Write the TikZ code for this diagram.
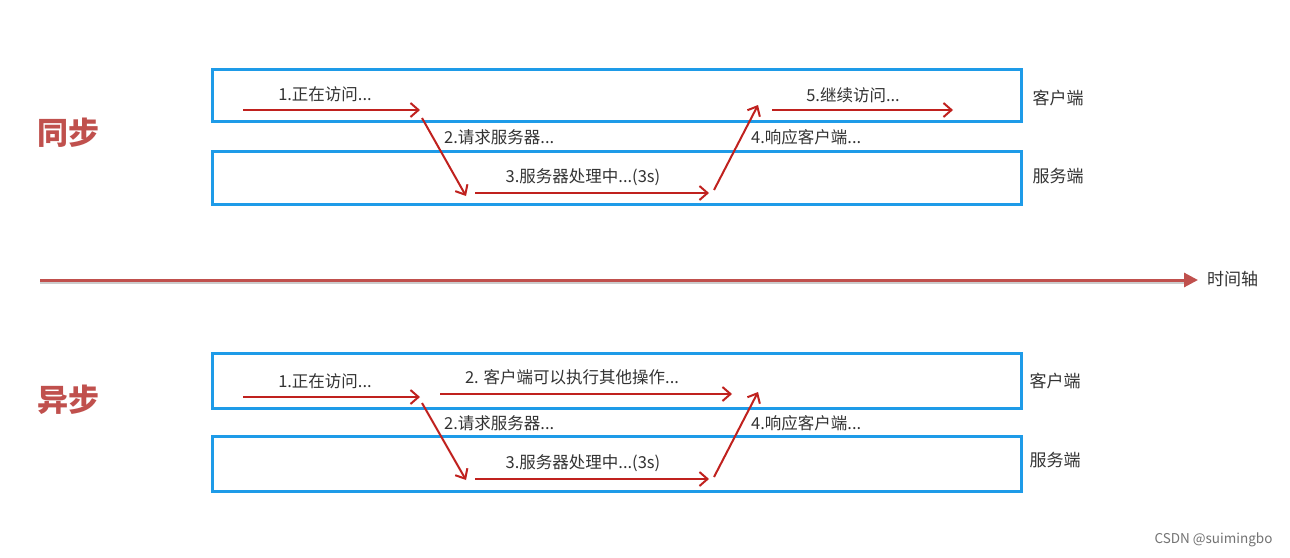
\documentclass[tikz,border=0pt]{standalone}
\usepackage{fontspec}
\setmainfont{Noto Sans CJK SC}
\usetikzlibrary{arrows.meta}
\definecolor{boxblue}{HTML}{1E9BE8}
\definecolor{arrred}{HTML}{C0211E}
\definecolor{axisred}{HTML}{C0504D}
\definecolor{txtgray}{HTML}{333333}
\tikzset{
  lane/.style={draw=boxblue, line width=3pt, minimum width=809pt, anchor=north west, inner sep=0pt},
  flow/.style={draw=arrred, line width=2pt, -{Straight Barb[length=8pt,width=14pt,line width=2pt]}},
  lbl/.style={text=txtgray, font=\fontsize{16.5}{18}\selectfont, inner sep=1pt},
  side/.style={text=txtgray, font=\fontsize{17}{19}\selectfont, inner sep=1pt},
  title/.style={text=axisred, font=\fontsize{31}{34}\selectfont\bfseries, inner sep=0pt},
}
\begin{document}
\begin{tikzpicture}[x=1pt,y=-1pt]
\useasboundingbox[fill=white] (0,0) rectangle (1290,557);

% ---------- synchronous ----------
\node[title] (tsync) at (68,133) {同步};
\node[lane, minimum height=52pt] (c1) at (211,68) {};
\node[lane, minimum height=53pt] (s1) at (211,150) {};
\node[side] (c1l) at (1058,98) {客户端};
\node[side] (s1l) at (1058,176) {服务端};

\coordinate (a1s) at (243,110); \coordinate (a1e) at (420,110);
\coordinate (a2s) at (422,118); \coordinate (a2e) at (466,196);
\coordinate (a3s) at (475,193); \coordinate (a3e) at (709,193);
\coordinate (a4s) at (714,190); \coordinate (a4e) at (758,105);
\coordinate (a5s) at (772,110); \coordinate (a5e) at (953,110);
\draw[flow] (a1s) -- (a1e);
\draw[flow] (a2s) -- (a2e);
\draw[flow] (a3s) -- (a3e);
\draw[flow] (a4s) -- (a4e);
\draw[flow] (a5s) -- (a5e);
\node[lbl] (l1) at (325,94) {1.正在访问...};
\node[lbl, anchor=west] (l2) at (443,137) {2.请求服务器...};
\node[lbl] (l3) at (583,177) {3.服务器处理中...(3s)};
\node[lbl, anchor=west] (l4) at (750,137) {4.响应客户端...};
\node[lbl] (l5) at (853,95) {5.继续访问...};

% ---------- time axis ----------
\coordinate (ax0) at (40,280);
\coordinate (ax1) at (1198,280);
\draw[draw=black!20, line width=3pt] ([yshift=-2pt]ax0) -- ([yshift=-2pt,xshift=-10pt]ax1);
\draw[draw=axisred, line width=3pt, -{Triangle[length=14pt,width=14pt]}] (ax0) -- (ax1);
\node[side, anchor=west] (axl) at (1206,279) {时间轴};

% ---------- asynchronous ----------
\node[title] (tasync) at (68,400) {异步};
\node[lane, minimum height=55pt] (c2) at (211,352) {};
\node[lane, minimum height=55pt] (s2) at (211,435) {};
\node[side] (c2l) at (1055,381) {客户端};
\node[side] (s2l) at (1055,460) {服务端};

\coordinate (b1s) at (243,397); \coordinate (b1e) at (420,397);
\coordinate (bxs) at (440,394); \coordinate (bxe) at (732,394);
\coordinate (b2s) at (422,403); \coordinate (b2e) at (466,480);
\coordinate (b3s) at (475,479); \coordinate (b3e) at (709,479);
\coordinate (b4s) at (714,477); \coordinate (b4e) at (758,392);
\draw[flow] (b1s) -- (b1e);
\draw[flow] (bxs) -- (bxe);
\draw[flow] (b2s) -- (b2e);
\draw[flow] (b3s) -- (b3e);
\draw[flow] (b4s) -- (b4e);
\node[lbl] (m1) at (325,381) {1.正在访问...};
\node[lbl] (mx) at (572,377) {2. 客户端可以执行其他操作...};
\node[lbl, anchor=west] (m2) at (443,423) {2.请求服务器...};
\node[lbl] (m3) at (583,463) {3.服务器处理中...(3s)};
\node[lbl, anchor=west] (m4) at (750,423) {4.响应客户端...};

% ---------- watermark ----------
\node[text=black!55, font=\fontsize{13.5}{15}\selectfont, anchor=east] (wm) at (1276,540) {CSDN @suimingbo};
\end{tikzpicture}
\end{document}
